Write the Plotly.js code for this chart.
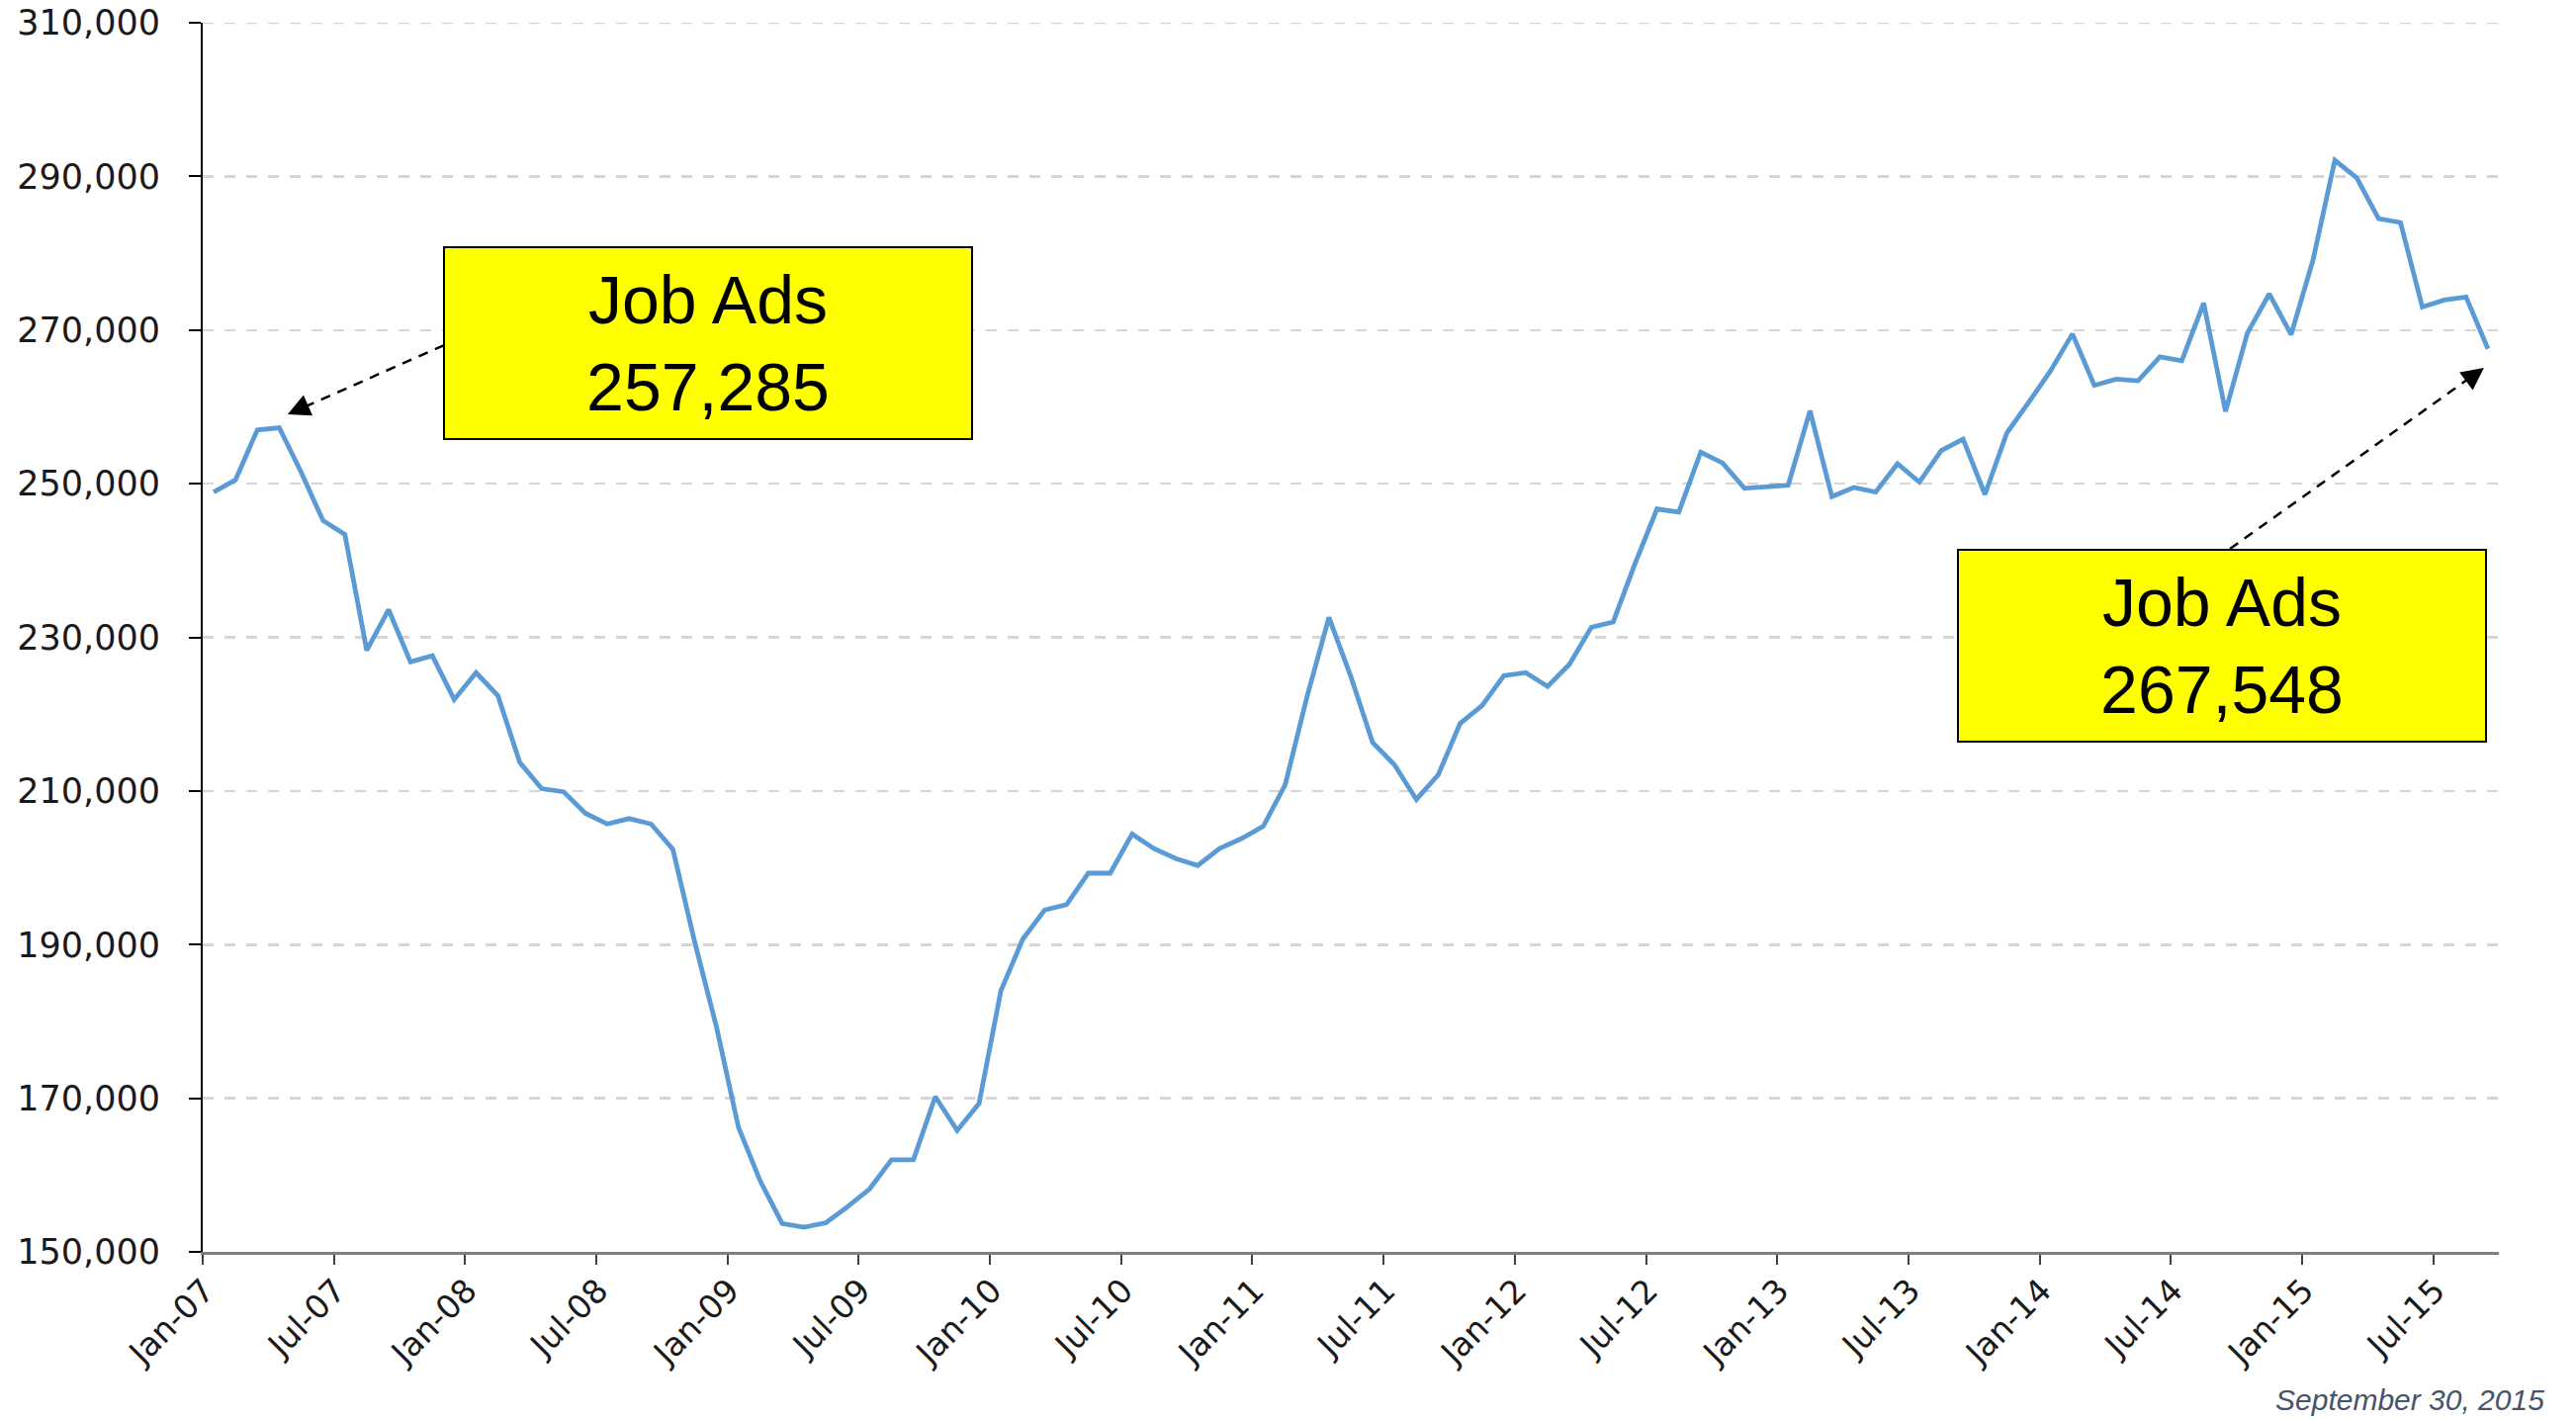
<!DOCTYPE html>
<html>
<head>
<meta charset="utf-8">
<script src="https://cdn.plot.ly/plotly-3.0.1.min.js"></script>
<style>
  html, body { margin: 0; padding: 0; background: #ffffff; }
  #chart { width: 2605px; height: 1435px; }
</style>
</head>
<body>
<div id="chart"></div>
<script>
// Monthly categories, Jan-07 .. Sep-15
const months = [
  "Jan-07","Feb-07","Mar-07","Apr-07","May-07","Jun-07","Jul-07","Aug-07","Sep-07","Oct-07","Nov-07","Dec-07",
  "Jan-08","Feb-08","Mar-08","Apr-08","May-08","Jun-08","Jul-08","Aug-08","Sep-08","Oct-08","Nov-08","Dec-08",
  "Jan-09","Feb-09","Mar-09","Apr-09","May-09","Jun-09","Jul-09","Aug-09","Sep-09","Oct-09","Nov-09","Dec-09",
  "Jan-10","Feb-10","Mar-10","Apr-10","May-10","Jun-10","Jul-10","Aug-10","Sep-10","Oct-10","Nov-10","Dec-10",
  "Jan-11","Feb-11","Mar-11","Apr-11","May-11","Jun-11","Jul-11","Aug-11","Sep-11","Oct-11","Nov-11","Dec-11",
  "Jan-12","Feb-12","Mar-12","Apr-12","May-12","Jun-12","Jul-12","Aug-12","Sep-12","Oct-12","Nov-12","Dec-12",
  "Jan-13","Feb-13","Mar-13","Apr-13","May-13","Jun-13","Jul-13","Aug-13","Sep-13","Oct-13","Nov-13","Dec-13",
  "Jan-14","Feb-14","Mar-14","Apr-14","May-14","Jun-14","Jul-14","Aug-14","Sep-14","Oct-14","Nov-14","Dec-14",
  "Jan-15","Feb-15","Mar-15","Apr-15","May-15","Jun-15","Jul-15","Aug-15","Sep-15"
];

// Job ads
const jobAds = [
  248900, 250500, 257000, 257285, 251500, 245200, 243400, 228300, 233600, 226800, 227600, 221900,
  225400, 222400, 213700, 210300, 209900, 207100, 205700, 206400, 205700, 202400, 190300, 179200,
  166200, 159200, 153700, 153200, 153800, 155900, 158200, 162000, 162000, 170200, 165800, 169300,
  184000, 190700, 194500, 195200, 199300, 199300, 204400, 202500, 201200, 200300, 202500, 203800,
  205400, 210800, 222300, 232600, 224900, 216300, 213400, 208900, 212100, 218800, 221100, 225000,
  225400, 223600, 226500, 231300, 232000, 239600, 246700, 246300, 254100, 252700, 249400, 249600,
  249800, 259500, 248300, 249500, 248900, 252600, 250200, 254300, 255800, 248600, 256600, 260600,
  264700, 269500, 262800, 263600, 263400, 266500, 266000, 273500, 259400, 269600, 274700, 269400,
  279100, 292100, 289800, 284500, 284000, 273000, 273900, 274300, 267548
];

// Callout texts
const calloutLabel = "Job Ads";
const calloutFirst = "257,285";
const calloutLast = "267,548";
const dateNote = "September 30, 2015";

// Axis settings
const yMin = 150000, yMax = 310000, yStep = 20000;

const gridColor = "#d6d6d6";
const gridDash = "11px,11px";

const trace = {
  type: "scatter",
  mode: "lines",
  x: months,
  y: jobAds,
  line: { color: "#5B9BD5", width: 4.8 },
  hoverinfo: "x+y"
};

const boxStyle = {
  xref: "paper", yref: "paper",
  showarrow: false,
  bgcolor: "#FFFF00",
  bordercolor: "#000000",
  borderwidth: 2,
  borderpad: 0,
  width: 532,
  height: 192,
  align: "center",
  valign: "middle",
  font: { family: "Liberation Sans, Arial, sans-serif", size: 68, color: "#000000" }
};

const headStyle = {
  xref: "paper", yref: "paper",
  text: "",
  showarrow: true,
  arrowhead: 2,
  arrowsize: 1.8,
  arrowwidth: 2.5,
  arrowcolor: "#000000",
  axref: "pixel", ayref: "pixel"
};

const layout = {
  width: 2605,
  height: 1435,
  margin: { l: 205, r: 78, t: 23, b: 169, pad: 0 },
  paper_bgcolor: "#ffffff",
  plot_bgcolor: "#ffffff",
  showlegend: false,
  xaxis: {
    type: "category",
    range: [-0.5, months.length - 0.5],
    tickmode: "linear",
    tick0: 0,
    dtick: 6,
    tickson: "boundaries",
    ticks: "outside",
    ticklen: 10,
    tickwidth: 2,
    tickcolor: "#404040",
    showline: true,
    linecolor: "#7f7f7f",
    linewidth: 2.5,
    showgrid: false,
    zeroline: false,
    tickangle: -45,
    ticklabelshift: -9,
    ticklabelstandoff: 4,
    tickfont: { family: "DejaVu Sans, Verdana, sans-serif", size: 33, color: "#1a1a1a" }
  },
  yaxis: {
    range: [yMin, yMax],
    tick0: yMin,
    dtick: yStep,
    tickformat: ",d",
    showgrid: true,
    gridcolor: gridColor,
    gridwidth: 2.5,
    griddash: gridDash,
    showline: true,
    linecolor: "#000000",
    linewidth: 2,
    ticks: "outside",
    ticklen: 12,
    tickwidth: 2,
    tickcolor: "#000000",
    zeroline: false,
    ticklabelstandoff: 22,
    tickfont: { family: "DejaVu Sans, Verdana, sans-serif", size: 35, color: "#1a1a1a" }
  },
  shapes: [
    // top gridline at the range maximum (Plotly skips grid lines on the plot edge)
    { type: "line", layer: "below", xref: "paper", yref: "y", x0: 0, x1: 1, y0: yMax, y1: yMax,
      line: { color: gridColor, width: 2.5, dash: gridDash } },
    { type: "line", xref: "paper", yref: "paper", x0: 0.1051, y0: 0.7377, x1: 0.0439, y1: 0.6870,
      line: { color: "#000000", width: 2.5, dash: "10px,8px" } },
    { type: "line", xref: "paper", yref: "paper", x0: 0.8829, y0: 0.5720, x1: 0.9872, y1: 0.7109,
      line: { color: "#000000", width: 2.5, dash: "10px,8px" } }
  ],
  annotations: [
    Object.assign({}, boxStyle, { x: 0.2201, y: 0.7393, xanchor: "center", yanchor: "middle",
      text: calloutLabel + "<br>" + calloutFirst }),
    Object.assign({}, boxStyle, { x: 0.8794, y: 0.4932, xanchor: "center", yanchor: "middle",
      text: calloutLabel + "<br>" + calloutLast }),
    Object.assign({}, headStyle, { x: 0.0370, y: 0.6814, ax: 18, ay: -8 }),
    Object.assign({}, headStyle, { x: 0.9935, y: 0.7192, ax: -16, ay: 12 }),
    {
      xref: "paper", yref: "paper", x: 1.0207, y: -0.1199,
      xanchor: "right", yanchor: "middle", showarrow: false,
      text: "<i>" + dateNote + "</i>",
      font: { family: "Liberation Sans, Arial, sans-serif", size: 30, color: "#44546A" }
    }
  ]
};

Plotly.newPlot("chart", [trace], layout, { displayModeBar: false, staticPlot: true });
</script>
</body>
</html>
